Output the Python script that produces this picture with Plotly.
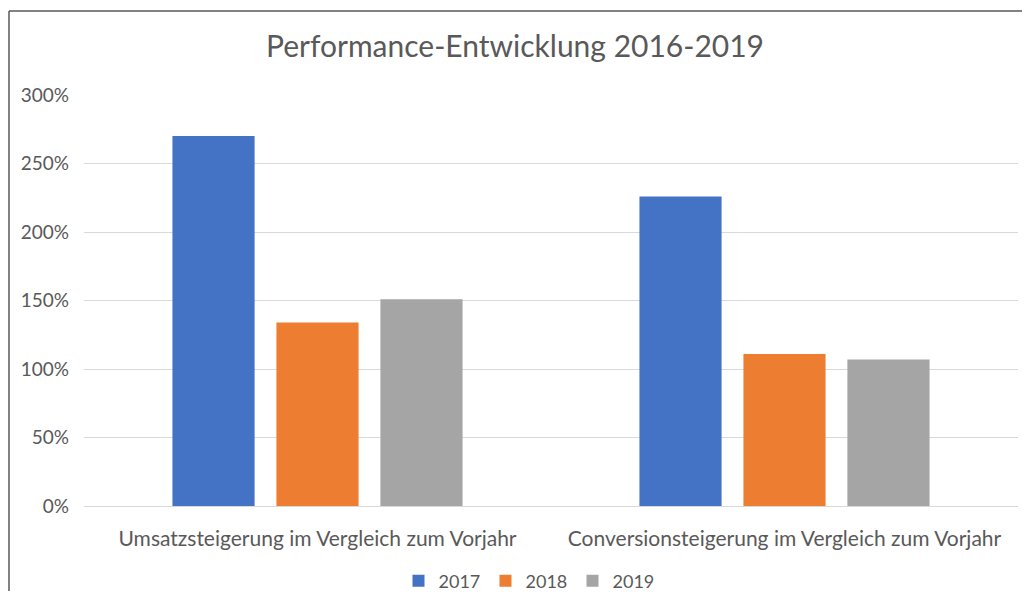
import plotly.graph_objects as go

# Daten
kategorien = ['Umsatzsteigerung im Vergleich zum Vorjahr',
              'Conversionsteigerung im Vergleich zum Vorjahr']
jahre = ['2017', '2018', '2019']
werte_2017 = [270, 226]
werte_2018 = [134, 111]
werte_2019 = [151, 107]
farben = ['#4472C4', '#ED7D31', '#A5A5A5']

font_name = 'Lato'
text_farbe = '#595959'

fig = go.Figure()
for jahr, werte, farbe in zip(jahre, [werte_2017, werte_2018, werte_2019], farben):
    fig.add_trace(go.Bar(x=kategorien, y=werte, name=jahr, marker_color=farbe,
                         marker_line_width=0))

# Seite hat 8px Rand, daher Figur kleiner und Koordinaten um 8px verschoben
OFF = 8
W, H = 1014, 583
L, R, T, B = 84 - OFF, W - (1018 - OFF), 95 - OFF, H - (506 - OFF)
pw, ph = W - L - R, H - T - B

fig.update_layout(
    width=W, height=H,
    margin=dict(l=L, r=R, t=T, b=B),
    paper_bgcolor='white', plot_bgcolor='white',
    font=dict(family=font_name, color=text_farbe, size=19),
    title=dict(text='Performance-Entwicklung 2016-2019', x=0.5, xanchor='center',
               y=1 - (46 - OFF) / H, yref='container', yanchor='middle',
               font=dict(size=30, color=text_farbe, family=font_name)),
    barmode='group', bargap=0.332, bargroupgap=0.21,
    legend=dict(orientation='h', x=0.5 - 22 / pw, xanchor='center',
                y=1 - (581 - OFF) / H, yref='container',
                yanchor='middle', font=dict(size=18, color=text_farbe),
                itemwidth=30, entrywidth=42, traceorder='normal'),
    showlegend=True,
)
fig.update_yaxes(range=[0, 300], dtick=50, ticksuffix='%', showgrid=True,
                 gridcolor='#D9D9D9', gridwidth=1, zeroline=False,
                 showline=False, ticklabelstandoff=14,
                 tickfont=dict(size=19, color=text_farbe))
fig.update_xaxes(showline=True, linecolor='#D9D9D9', linewidth=1,
                 ticks='', ticklabelstandoff=14,
                 tickfont=dict(size=21, color=text_farbe))

# Rahmen um das Diagramm (oben und links)
rand = dict(color='#595959', width=1.5)
fig.add_shape(type='line', xref='paper', yref='paper',
              x0=(1 - L) / pw, x1=(W - L) / pw,
              y0=1 + (T - 3) / ph, y1=1 + (T - 3) / ph, line=rand)
fig.add_shape(type='line', xref='paper', yref='paper',
              x0=(1 - L) / pw, x1=(1 - L) / pw,
              y0=-B / ph, y1=1 + (T - 3) / ph, line=rand)

fig.write_html("out.html")
